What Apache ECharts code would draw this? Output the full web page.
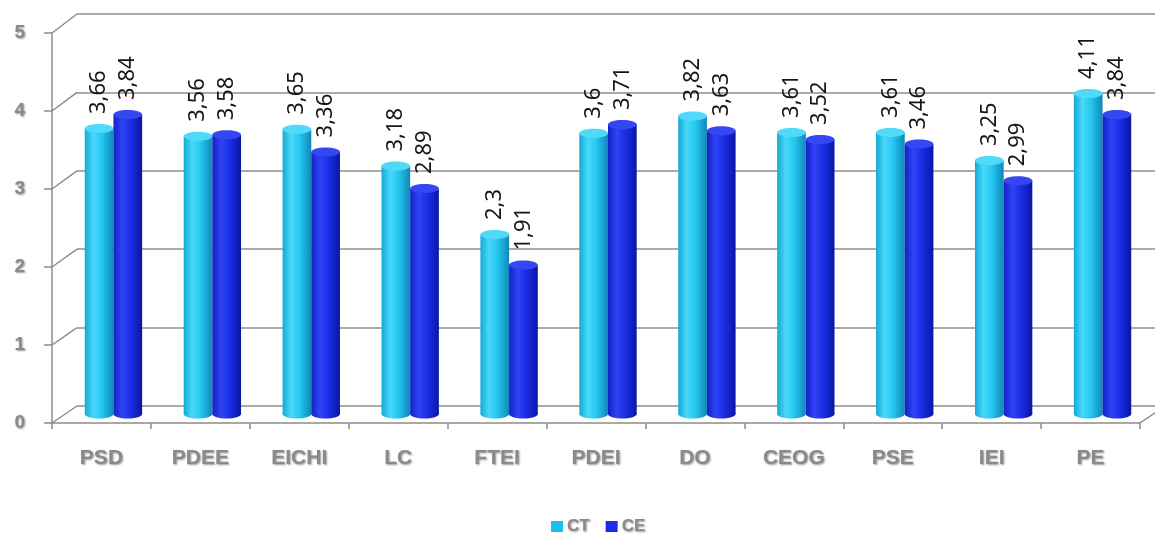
<!DOCTYPE html>
<html>
<head>
<meta charset="utf-8">
<script src="https://cdn.jsdelivr.net/npm/echarts@6/dist/echarts.min.js"></script>
<style>
  html, body { margin: 0; padding: 0; background: #ffffff; }
  #chart { width: 1155px; height: 535px; }
</style>
</head>
<body>
<div id="chart"></div>
<script>
// Category codes along the base of the chart
const categories = ['PSD', 'PDEE', 'EICHI', 'LC', 'FTEI', 'PDEI', 'DO', 'CEOG', 'PSE', 'IEI', 'PE'];
// Mean scores per category
const ctValues = [3.66, 3.56, 3.65, 3.18, 2.3, 3.6, 3.82, 3.61, 3.61, 3.25, 4.11];
const ceValues = [3.84, 3.58, 3.36, 2.89, 1.91, 3.71, 3.63, 3.52, 3.46, 2.99, 3.84];
const seriesNames = ['CT', 'CE'];
// Value axis range and step
const yMin = 0, yMax = 5, yStep = 1;

const grayText = {
  color: '#8a8a8a',
  fontWeight: 'bold',
  fontFamily: 'Liberation Sans, Arial, sans-serif',
  textShadowColor: 'rgba(0,0,0,0.4)',
  textShadowBlur: 2,
  textShadowOffsetX: 1,
  textShadowOffsetY: 1
};

// Cylinder shading for each series: body gradient stops and cap colour
const palette = [
  { body: ['#16a8d6', '#48d9fa', '#24c6f0', '#0f88b8'], cap: '#50daf8', solid: '#1cc0ec' },
  { body: ['#1222c2', '#3043f6', '#1c2ee6', '#0a16a4'], cap: '#3547f2', solid: '#1b2be6' }
];

const fmt = v => String(v).replace('.', ',');

function renderCylinder(params, api) {
  const i = api.value(0);
  const v = api.value(1);
  const top = api.coord([i, v]);
  const base = api.coord([i, 0]);
  const band = api.size([1, 0])[0];
  const w = band * 0.29;
  const x0 = params.seriesIndex === 0 ? top[0] - w : top[0];
  const cx = x0 + w / 2;
  const ry = 4.5;
  const p = palette[params.seriesIndex];
  const grad = new echarts.graphic.LinearGradient(0, 0, 1, 0, [
    { offset: 0, color: p.body[0] },
    { offset: 0.3, color: p.body[1] },
    { offset: 0.6, color: p.body[2] },
    { offset: 1, color: p.body[3] }
  ]);
  return {
    type: 'group',
    children: [
      { type: 'ellipse', shape: { cx: cx, cy: base[1], rx: w / 2, ry: ry }, style: { fill: grad } },
      { type: 'rect', shape: { x: x0, y: top[1], width: w, height: base[1] - top[1] }, style: { fill: grad } },
      { type: 'ellipse', shape: { cx: cx, cy: top[1], rx: w / 2, ry: ry }, style: { fill: p.cap } },
      {
        type: 'text',
        x: cx,
        y: top[1] - ry - 10,
        rotation: Math.PI / 2,
        style: {
          text: fmt(v),
          fill: '#151515',
          fontSize: 22,
          fontFamily: 'Noto Sans, Arial, sans-serif',
          align: 'left',
          verticalAlign: 'middle',
          textAlign: 'left',
          textVerticalAlign: 'middle'
        }
      }
    ]
  };
}

const chart = echarts.init(document.getElementById('chart'), null, { renderer: 'canvas' });

const option = {
  animation: false,
  backgroundColor: '#ffffff',
  legend: {
    data: seriesNames,
    left: 546,
    top: 513,
    icon: 'rect',
    itemWidth: 12,
    itemHeight: 11,
    itemGap: 16,
    textStyle: Object.assign({ fontSize: 17, padding: [0, 0, 0, -1] }, grayText)
  },
  grid: [
    // front plane: axis lines, ticks and labels
    { left: 52, right: 15, top: 33, bottom: 112 },
    // back wall: gridlines
    { left: 77, right: 0, top: 14, bottom: 129 },
    // middle depth: cylinders
    { left: 64, right: 3, top: 24, bottom: 121 }
  ],
  xAxis: [
    {
      gridIndex: 0, type: 'category', data: categories,
      axisLine: { lineStyle: { color: '#8c8c8c', width: 1.5 } },
      axisTick: { show: true, length: 6, lineStyle: { color: '#8c8c8c', width: 1.5 } },
      axisLabel: Object.assign({ fontSize: 21, margin: 25 }, grayText),
      splitLine: { show: false }
    },
    { gridIndex: 1, type: 'category', data: categories, show: false },
    { gridIndex: 2, type: 'category', data: categories, show: false }
  ],
  yAxis: [
    {
      gridIndex: 0, type: 'value', min: yMin, max: yMax, interval: yStep,
      axisLine: { show: true, lineStyle: { color: '#8c8c8c', width: 1.5 } },
      axisTick: { show: true, length: 8, lineStyle: { color: '#8c8c8c', width: 1.5 } },
      axisLabel: Object.assign({ fontSize: 19, margin: 27 }, grayText),
      splitLine: { show: false }
    },
    {
      gridIndex: 1, type: 'value', min: yMin, max: yMax, interval: yStep,
      axisLine: { show: false }, axisTick: { show: false }, axisLabel: { show: false },
      splitLine: { show: true, lineStyle: { color: '#8f8f8f', width: 1.5 } }
    },
    { gridIndex: 2, type: 'value', min: yMin, max: yMax, show: false }
  ],
  series: [
    {
      name: seriesNames[0], type: 'custom', xAxisIndex: 2, yAxisIndex: 2,
      itemStyle: { color: palette[0].solid },
      encode: { x: 0, y: 1 },
      renderItem: renderCylinder,
      data: ctValues.map((v, i) => [i, v])
    },
    {
      name: seriesNames[1], type: 'custom', xAxisIndex: 2, yAxisIndex: 2,
      itemStyle: { color: palette[1].solid },
      encode: { x: 0, y: 1 },
      renderItem: renderCylinder,
      data: ceValues.map((v, i) => [i, v])
    }
  ]
};

chart.setOption(option);

// Depth edges joining the front axes to the back wall
const lines = [];
const lineStyle = { stroke: '#8c8c8c', lineWidth: 1.5 };
const backLeft = chart.convertToPixel({ xAxisIndex: 1 }, 0) - (chart.convertToPixel({ xAxisIndex: 1 }, 1) - chart.convertToPixel({ xAxisIndex: 1 }, 0)) / 2;
const frontLeft = chart.convertToPixel({ xAxisIndex: 0 }, 0) - (chart.convertToPixel({ xAxisIndex: 0 }, 1) - chart.convertToPixel({ xAxisIndex: 0 }, 0)) / 2;
const frontBand = chart.convertToPixel({ xAxisIndex: 0 }, 1) - chart.convertToPixel({ xAxisIndex: 0 }, 0);
const frontRight = chart.convertToPixel({ xAxisIndex: 0 }, categories.length - 1) + frontBand / 2;
for (let v = yMin; v <= yMax; v += yStep) {
  const yf = chart.convertToPixel({ yAxisIndex: 0 }, v);
  const yb = chart.convertToPixel({ yAxisIndex: 1 }, v);
  lines.push({ type: 'line', shape: { x1: frontLeft, y1: yf, x2: backLeft, y2: yb }, style: lineStyle, silent: true });
}
const y0f = chart.convertToPixel({ yAxisIndex: 0 }, 0);
const y0b = chart.convertToPixel({ yAxisIndex: 1 }, 0);
lines.push({ type: 'line', shape: { x1: frontRight, y1: y0f, x2: frontRight + (backLeft - frontLeft), y2: y0b }, style: lineStyle, silent: true });
chart.setOption({ graphic: lines });
</script>
</body>
</html>
